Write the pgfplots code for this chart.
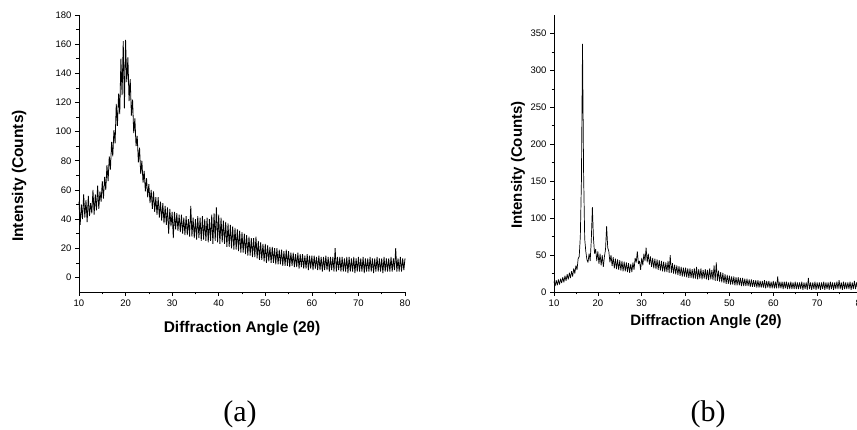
\documentclass[border=0pt]{standalone}
\usepackage{pgfplots}
\pgfplotsset{compat=1.18}
\usepackage{pgfplotstable}
\usepackage{fontspec}
\setmainfont{Liberation Sans}
\newfontfamily\capfont{Liberation Serif}

% sample (a), intensity vs 2theta
\pgfplotstableread[row sep=\\]{
x y\\
10 52\\ 10.25 36\\ 10.5 50\\ 10.75 40\\ 11 57\\ 11.25 41\\ 11.5 53\\ 11.75 38\\ 12 56\\ 12.25 42\\ 12.5 51\\ 12.75 44\\
13 60\\ 13.25 43\\ 13.5 57\\ 13.75 46\\ 14 63\\ 14.25 47\\ 14.5 59\\ 14.75 52\\ 15 66\\ 15.25 54\\ 15.5 69\\ 15.75 60\\
16 77\\ 16.25 66\\ 16.5 83\\ 16.75 74\\ 17 93\\ 17.25 83\\ 17.5 101\\ 17.75 92\\ 18 119\\ 18.25 104\\ 18.5 126\\ 18.75 112\\
19 150\\ 19.25 125\\ 19.5 162\\ 19.75 116\\ 20 163\\ 20.25 134\\ 20.5 151\\ 20.75 121\\ 21 136\\ 21.25 111\\ 21.5 122\\ 21.75 99\\
22 109\\ 22.25 90\\ 22.5 97\\ 22.75 79\\ 23 89\\ 23.25 71\\ 23.5 80\\ 23.75 65\\ 24 73\\ 24.25 59\\ 24.5 68\\ 24.75 55\\
25 64\\ 25.25 51\\ 25.5 60\\ 25.75 47\\ 26 59\\ 26.25 45\\ 26.5 55\\ 26.75 43\\ 27 55\\ 27.25 41\\ 27.5 52\\ 27.75 39\\
28 51\\ 28.25 37\\ 28.5 49\\ 28.75 36\\ 29 48\\ 29.25 30\\ 29.5 47\\ 29.75 35\\ 30 45\\ 30.25 27\\ 30.5 45\\ 30.75 33\\
31 44\\ 31.25 32\\ 31.5 43\\ 31.75 31\\ 32 43\\ 32.25 30\\ 32.5 41\\ 32.75 29\\ 33 42\\ 33.25 29\\ 33.5 40\\ 33.75 28\\
34 49\\ 34.25 28\\ 34.5 41\\ 34.75 27\\ 35 40\\ 35.25 26\\ 35.5 42\\ 35.75 27\\ 36 41\\ 36.25 25\\ 36.5 42\\ 36.75 26\\
37 40\\ 37.25 25\\ 37.5 41\\ 37.75 24\\ 38 40\\ 38.25 25\\ 38.5 43\\ 38.75 23\\ 39 44\\ 39.25 25\\ 39.5 48\\ 39.75 24\\
40 43\\ 40.25 23\\ 40.5 41\\ 40.75 24\\ 41 39\\ 41.25 23\\ 41.5 38\\ 41.75 21\\ 42 37\\ 42.25 21\\ 42.5 36\\ 42.75 20\\
43 35\\ 43.25 19\\ 43.5 34\\ 43.75 19\\ 44 33\\ 44.25 18\\ 44.5 32\\ 44.75 17\\ 45 31\\ 45.25 17\\ 45.5 30\\ 45.75 16\\
46 29\\ 46.25 15\\ 46.5 28\\ 46.75 15\\ 47 27\\ 47.25 14\\ 47.5 27\\ 47.75 14\\ 48 28\\ 48.25 13\\ 48.5 25\\ 48.75 12\\
49 24\\ 49.25 12\\ 49.5 23\\ 49.75 11\\ 50 23\\ 50.25 10\\ 50.5 22\\ 50.75 11\\ 51 21\\ 51.25 10\\ 51.5 21\\ 51.75 10\\
52 20\\ 52.25 9\\ 52.5 20\\ 52.75 9\\ 53 19\\ 53.25 9\\ 53.5 19\\ 53.75 8\\ 54 18\\ 54.25 8\\ 54.5 19\\ 54.75 8\\
55 18\\ 55.25 7\\ 55.5 17\\ 55.75 8\\ 56 17\\ 56.25 7\\ 56.5 16\\ 56.75 7\\ 57 17\\ 57.25 6\\ 57.5 16\\ 57.75 7\\
58 16\\ 58.25 6\\ 58.5 15\\ 58.75 6\\ 59 16\\ 59.25 5\\ 59.5 15\\ 59.75 6\\ 60 15\\ 60.25 5\\ 60.5 15\\ 60.75 6\\
61 14\\ 61.25 5\\ 61.5 15\\ 61.75 5\\ 62 14\\ 62.25 4\\ 62.5 14\\ 62.75 5\\ 63 15\\ 63.25 5\\ 63.5 14\\ 63.75 4\\
64 14\\ 64.25 5\\ 64.5 14\\ 64.75 4\\ 65 20\\ 65.25 4\\ 65.5 14\\ 65.75 5\\ 66 14\\ 66.25 4\\ 66.5 14\\ 66.75 4\\
67 13\\ 67.25 4\\ 67.5 14\\ 67.75 3\\ 68 14\\ 68.25 4\\ 68.5 13\\ 68.75 4\\ 69 14\\ 69.25 3\\ 69.5 13\\ 69.75 4\\
70 14\\ 70.25 4\\ 70.5 13\\ 70.75 4\\ 71 14\\ 71.25 3\\ 71.5 13\\ 71.75 4\\ 72 13\\ 72.25 4\\ 72.5 14\\ 72.75 4\\
73 13\\ 73.25 3\\ 73.5 13\\ 73.75 4\\ 74 14\\ 74.25 4\\ 74.5 13\\ 74.75 4\\ 75 13\\ 75.25 3\\ 75.5 14\\ 75.75 4\\
76 13\\ 76.25 4\\ 76.5 13\\ 76.75 4\\ 77 14\\ 77.25 4\\ 77.5 13\\ 77.75 5\\ 78 20\\ 78.25 4\\ 78.5 13\\ 78.75 4\\
79 14\\ 79.25 4\\ 79.5 13\\ 79.75 5\\ 80 13\\
}\sampleA

% sample (b)
\pgfplotstableread[row sep=\\]{
x y\\
10 14\\ 10.25 8\\ 10.5 16\\ 10.75 9\\ 11 17\\ 11.25 10\\ 11.5 18\\ 11.75 12\\ 12 20\\ 12.25 13\\ 12.5 22\\ 12.75 15\\
13 24\\ 13.25 17\\ 13.5 26\\ 13.75 19\\ 14 28\\ 14.25 21\\ 14.5 32\\ 14.75 25\\ 15 36\\ 15.25 30\\ 15.5 45\\ 15.75 48\\
16 75\\ 16.25 150\\ 16.5 336\\ 16.75 160\\ 17 72\\ 17.25 55\\ 17.5 44\\ 17.75 40\\ 18 52\\ 18.25 42\\ 18.5 70\\ 18.75 115\\
19 72\\ 19.25 52\\ 19.5 58\\ 19.75 42\\ 20 55\\ 20.25 38\\ 20.5 52\\ 20.75 36\\ 21 50\\ 21.25 34\\ 21.5 48\\ 21.75 58\\
22 89\\ 22.25 60\\ 22.5 55\\ 22.75 40\\ 23 50\\ 23.25 35\\ 23.5 47\\ 23.75 32\\ 24 45\\ 24.25 31\\ 24.5 44\\ 24.75 30\\
25 43\\ 25.25 29\\ 25.5 42\\ 25.75 28\\ 26 41\\ 26.25 28\\ 26.5 40\\ 26.75 27\\ 27 39\\ 27.25 26\\ 27.5 38\\ 27.75 27\\
28 40\\ 28.25 30\\ 28.5 46\\ 28.75 40\\ 29 55\\ 29.25 38\\ 29.5 42\\ 29.75 30\\ 30 46\\ 30.25 36\\ 30.5 52\\ 30.75 42\\
31 60\\ 31.25 40\\ 31.5 52\\ 31.75 37\\ 32 48\\ 32.25 34\\ 32.5 46\\ 32.75 32\\ 33 45\\ 33.25 31\\ 33.5 44\\ 33.75 30\\
34 43\\ 34.25 29\\ 34.5 42\\ 34.75 28\\ 35 41\\ 35.25 27\\ 35.5 40\\ 35.75 27\\ 36 42\\ 36.25 26\\ 36.5 50\\ 36.75 26\\
37 39\\ 37.25 25\\ 37.5 37\\ 37.75 24\\ 38 36\\ 38.25 23\\ 38.5 35\\ 38.75 22\\ 39 34\\ 39.25 21\\ 39.5 33\\ 39.75 21\\
40 33\\ 40.25 20\\ 40.5 32\\ 40.75 19\\ 41 32\\ 41.25 19\\ 41.5 31\\ 41.75 18\\ 42 32\\ 42.25 18\\ 42.5 34\\ 42.75 17\\
43 31\\ 43.25 18\\ 43.5 32\\ 43.75 17\\ 44 30\\ 44.25 18\\ 44.5 31\\ 44.75 17\\ 45 30\\ 45.25 16\\ 45.5 32\\ 45.75 17\\
46 30\\ 46.25 16\\ 46.5 36\\ 46.75 15\\ 47 40\\ 47.25 15\\ 47.5 29\\ 47.75 14\\ 48 27\\ 48.25 13\\ 48.5 26\\ 48.75 12\\
49 24\\ 49.25 11\\ 49.5 23\\ 49.75 11\\ 50 22\\ 50.25 10\\ 50.5 21\\ 50.75 10\\ 51 21\\ 51.25 9\\ 51.5 20\\ 51.75 9\\
52 20\\ 52.25 9\\ 52.5 19\\ 52.75 8\\ 53 19\\ 53.25 8\\ 53.5 18\\ 53.75 8\\ 54 18\\ 54.25 8\\ 54.5 17\\ 54.75 7\\
55 17\\ 55.25 7\\ 55.5 16\\ 55.75 7\\ 56 16\\ 56.25 6\\ 56.5 16\\ 56.75 6\\ 57 15\\ 57.25 6\\ 57.5 15\\ 57.75 6\\
58 16\\ 58.25 5\\ 58.5 15\\ 58.75 6\\ 59 15\\ 59.25 5\\ 59.5 14\\ 59.75 5\\ 60 15\\ 60.25 5\\ 60.5 14\\ 60.75 5\\
61 21\\ 61.25 5\\ 61.5 14\\ 61.75 5\\ 62 14\\ 62.25 4\\ 62.5 14\\ 62.75 5\\ 63 14\\ 63.25 4\\ 63.5 13\\ 63.75 4\\
64 14\\ 64.25 4\\ 64.5 13\\ 64.75 4\\ 65 14\\ 65.25 4\\ 65.5 13\\ 65.75 4\\ 66 13\\ 66.25 4\\ 66.5 14\\ 66.75 3\\
67 13\\ 67.25 4\\ 67.5 13\\ 67.75 3\\ 68 19\\ 68.25 4\\ 68.5 13\\ 68.75 3\\ 69 13\\ 69.25 4\\ 69.5 14\\ 69.75 3\\
70 13\\ 70.25 4\\ 70.5 13\\ 70.75 3\\ 71 13\\ 71.25 4\\ 71.5 14\\ 71.75 3\\ 72 13\\ 72.25 4\\ 72.5 13\\ 72.75 3\\
73 14\\ 73.25 4\\ 73.5 13\\ 73.75 3\\ 74 13\\ 74.25 4\\ 74.5 14\\ 74.75 4\\ 75 16\\ 75.25 4\\ 75.5 13\\ 75.75 3\\
76 14\\ 76.25 4\\ 76.5 13\\ 76.75 4\\ 77 13\\ 77.25 4\\ 77.5 14\\ 77.75 3\\ 78 13\\ 78.25 4\\ 78.5 15\\ 78.75 4\\
79 13\\ 79.25 4\\ 79.5 14\\ 79.75 4\\ 80 13\\
}\sampleB

\pgfplotsset{
  xrd/.style={
    scale only axis, anchor=south west, height=277pt,
    axis lines=left, axis line style={-, line width=0.8pt},
    tick align=outside, major tick length=4pt, minor tick length=2.5pt,
    tick style={black, line width=0.6pt},
    xmin=10, xmax=80, xtick={10,20,...,80}, minor x tick num=1,
    minor y tick num=1,
    ticklabel style={font=\fontsize{9.5}{11}\selectfont},
    /pgf/number format/assume math mode=true,
    clip=false,
  },
}

\begin{document}
\begin{tikzpicture}[x=1pt,y=1pt]
\useasboundingbox (0,0) rectangle (857,430);

\begin{axis}[xrd, at={(79pt,138pt)}, width=326pt,
  ymin=-10, ymax=180, ytick={0,20,...,180}]
\addplot[black, line width=0.8pt, line join=bevel] table[x=x,y=y] {\sampleA};
\end{axis}

\begin{axis}[xrd, at={(554pt,138pt)}, width=307pt,
  ymin=0, ymax=375, ytick={0,50,...,350}]
\addplot[black, line width=0.7pt, line join=bevel] table[x=x,y=y] {\sampleB};
\end{axis}

\node[rotate=90, font=\fontsize{15.5}{18}\bfseries\selectfont] at (19,254) {Intensity (Counts)};
\node[font=\fontsize{15.5}{18}\bfseries\selectfont] at (242,101) {Diffraction Angle (2θ)};
\node[rotate=90, font=\fontsize{15}{18}\bfseries\selectfont] at (518,265) {Intensity (Counts)};
\node[font=\fontsize{15}{18}\bfseries\selectfont] at (706,108) {Diffraction Angle (2θ)};

\node[font=\capfont\fontsize{30}{34}\selectfont] at (240,16) {(a)};
\node[font=\capfont\fontsize{30}{34}\selectfont] at (708,16) {(b)};
\end{tikzpicture}
\end{document}
